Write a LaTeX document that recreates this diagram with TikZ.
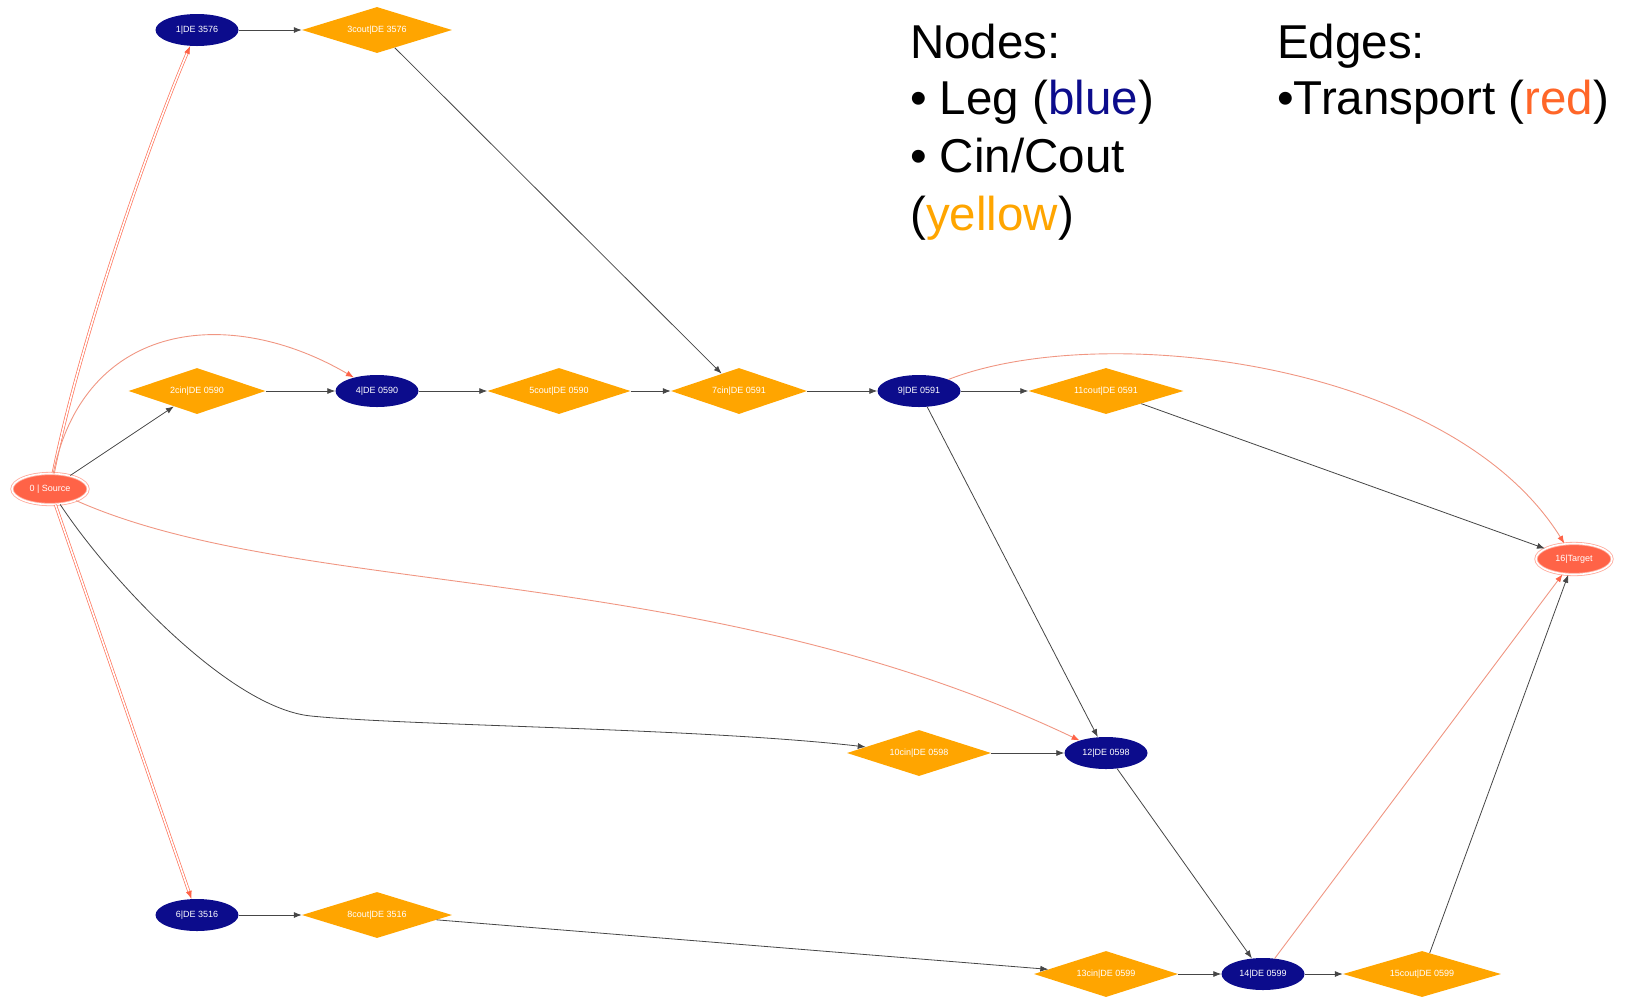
\documentclass[tikz,border=0pt]{standalone}
\usepackage{fontspec}
\setmainfont{Liberation Sans}
\usetikzlibrary{shapes.geometric,arrows.meta}
\definecolor{legblue}{RGB}{12,12,140}
\definecolor{cinorange}{RGB}{255,165,0}
\definecolor{srcred}{RGB}{255,99,71}
\definecolor{edgered}{RGB}{240,150,130}
\definecolor{edgegray}{RGB}{70,70,70}
\definecolor{legred}{RGB}{255,102,40}
\tikzset{
  leg/.style={ellipse, fill=legblue, draw=none, inner sep=0pt, minimum width=83pt, minimum height=32pt, text=white, font=\fontsize{9}{10}\selectfont},
  cin/.style={diamond, aspect=3.2, fill=cinorange, draw=none, inner sep=0pt, minimum width=#1, minimum height=46pt, text=white, font=\fontsize{9}{10}\selectfont},
  term/.style={ellipse, fill=srcred, draw=srcred!55, double=white, double distance=1.6pt, line width=0.8pt, inner sep=0pt, minimum width=76pt, minimum height=31pt, text=white, font=\fontsize{9}{10}\selectfont},
  ge/.style={draw=edgegray, line width=0.8pt, -{Latex[length=8pt,width=6pt]}},
  re/.style={draw=edgered, line width=0.9pt, -{Latex[length=8pt,width=6pt,color=srcred]}},
  dre/.style={draw=srcred!90, double=white, double distance=1.6pt, line width=0.7pt, -{Latex[length=8pt,width=6pt,color=srcred]}},
  legtext/.style={anchor=base west, inner sep=0pt, font=\fontsize{47.5}{57}\selectfont}
}
\begin{document}
\begin{tikzpicture}[x=1pt,y=-1pt]
\useasboundingbox (0,0) rectangle (1627,997);
% nodes
\node[term] (n0) at (50,489) {0 | Source};
\node[leg] (n1) at (197,30) {1|DE 3576};
\node[cin=150pt] (n3) at (377,30) {3cout|DE 3576};
\node[cin=137pt] (n2) at (197,391) {2cin|DE 0590};
\node[leg] (n4) at (377,391) {4|DE 0590};
\node[cin=143pt] (n5) at (559,391) {5cout|DE 0590};
\node[cin=136pt] (n7) at (739,391) {7cin|DE 0591};
\node[leg] (n9) at (919,391) {9|DE 0591};
\node[cin=155pt] (n11) at (1106,391) {11cout|DE 0591};
\node[term] (n16) at (1574,559) {16|Target};
\node[cin=144pt] (n10) at (919,753) {10cin|DE 0598};
\node[leg] (n12) at (1106,753) {12|DE 0598};
\node[leg] (n6) at (197,915) {6|DE 3516};
\node[cin=150pt] (n8) at (377,915) {8cout|DE 3516};
\node[cin=144pt] (n13) at (1106,974) {13cin|DE 0599};
\node[leg] (n14) at (1263,974) {14|DE 0599};
\node[cin=158pt] (n15) at (1422,974) {15cout|DE 0599};
% edges
\draw[dre] (n0) .. controls (80,340) and (150,140) .. (n1);
\draw[dre] (n0) -- (n6);
\draw[re] (n0) .. controls (85,320) and (230,305) .. (n4);
\draw[ge] (n0) -- (n2);
\draw[re] (n0) .. controls (300,600) and (700,560) .. (n12);
\draw[ge] (n0) .. controls (110,580) and (230,708) .. (311,716) .. controls (411,726) and (700,728) .. (n10);
\draw[ge] (n1) -- (n3);
\draw[ge] (n3) -- (n7);
\draw[ge] (n2) -- (n4);
\draw[ge] (n4) -- (n5);
\draw[ge] (n5) -- (n7);
\draw[ge] (n7) -- (n9);
\draw[ge] (n9) -- (n11);
\draw[re] (n9) .. controls (1100,320) and (1450,360) .. (n16);
\draw[ge] (n11) -- (n16);
\draw[ge] (n9) -- (n12);
\draw[ge] (n10) -- (n12);
\draw[ge] (n12) -- (n14);
\draw[ge] (n6) -- (n8);
\draw[ge] (n8) -- (n13);
\draw[ge] (n13) -- (n14);
\draw[ge] (n14) -- (n15);
\draw[re] (n14) -- (n16);
\draw[ge] (n15) -- (n16);
% legend
\node[legtext] (l1) at (910,58) {Nodes:};
\node[legtext] (l2) at (910,114) {• Leg (\textcolor{legblue}{blue})};
\node[legtext] (l3) at (910,172) {• Cin/Cout};
\node[legtext] (l4) at (910,230) {(\textcolor{cinorange}{yellow})};
\node[legtext] (l5) at (1277,58) {Edges:};
\node[legtext] (l6) at (1277,114) {•Transport (\textcolor{legred}{red})};
\end{tikzpicture}
\end{document}
